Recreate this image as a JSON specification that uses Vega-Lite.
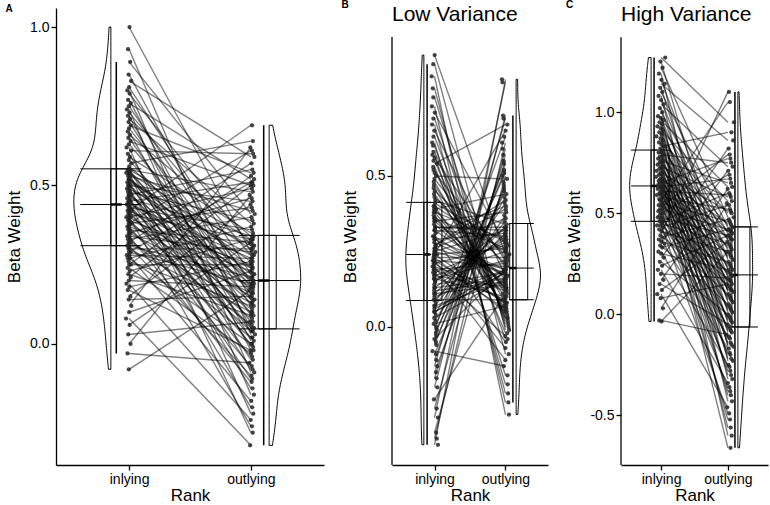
{
"$schema":"https://vega.github.io/schema/vega-lite/v6.json",
"padding":{"left":5,"right":5,"top":0,"bottom":5},
"spacing":17,
"config":{"font":"Liberation Sans","view":{"stroke":null},
"axis":{"grid":false,"domainColor":"#000","domainWidth":1.3,"tickColor":"#000","tickWidth":1.3,"tickSize":5,"labelColor":"#000","labelFontSize":14,"labelFont":"Liberation Sans","titleFont":"Liberation Sans","titleFontSize":17,"titleFontWeight":"normal","titleColor":"#000","labelPadding":2},
"axisX":{"labelAngle":0,"titlePadding":1},"axisY":{"titlePadding":6},
"title":{"font":"Liberation Sans","color":"#000"}},
"datasets":{
"A":[{"i":-0.08,"o":0.17},{"i":-0.03,"o":-0.06},{"i":0,"o":0.47},{"i":0.03,"o":0.07},{"i":0.06,"o":0.32},{"i":0.08,"o":-0.32},{"i":0.1,"o":0.23},{"i":0.12,"o":0.62},{"i":0.14,"o":0.15},{"i":0.15,"o":0.44},
{"i":0.17,"o":-0.02},{"i":0.18,"o":0.26},{"i":0.19,"o":-0.24},{"i":0.2,"o":0.18},{"i":0.21,"o":0.5},{"i":0.22,"o":0.09},{"i":0.23,"o":0.33},{"i":0.24,"o":-0.03},{"i":0.25,"o":0.25},{"i":0.25,"o":0.53},
{"i":0.26,"o":0.12},{"i":0.27,"o":0.37},{"i":0.27,"o":0},{"i":0.28,"o":0.27},{"i":0.28,"o":-0.18},{"i":0.29,"o":0.19},{"i":0.29,"o":0.51},{"i":0.3,"o":0.1},{"i":0.3,"o":0.3},{"i":0.31,"o":-0.1},
{"i":0.31,"o":0.21},{"i":0.32,"o":0.57},{"i":0.32,"o":0.13},{"i":0.33,"o":0.4},{"i":0.33,"o":0.02},{"i":0.34,"o":0.29},{"i":0.34,"o":-0.12},{"i":0.35,"o":0.16},{"i":0.35,"o":0.46},{"i":0.36,"o":0.06},
{"i":0.36,"o":0.32},{"i":0.37,"o":-0.07},{"i":0.37,"o":0.23},{"i":0.38,"o":0.61},{"i":0.38,"o":0.15},{"i":0.38,"o":0.43},{"i":0.39,"o":0.04},{"i":0.39,"o":0.25},{"i":0.4,"o":-0.26},{"i":0.4,"o":0.18},
{"i":0.4,"o":0.49},{"i":0.41,"o":0.08},{"i":0.41,"o":0.33},{"i":0.42,"o":-0.04},{"i":0.42,"o":0.24},{"i":0.42,"o":0.69},{"i":0.43,"o":0.11},{"i":0.43,"o":0.36},{"i":0.44,"o":0},{"i":0.44,"o":0.27},
{"i":0.44,"o":-0.2},{"i":0.45,"o":0.19},{"i":0.45,"o":0.51},{"i":0.45,"o":0.1},{"i":0.46,"o":0.34},{"i":0.46,"o":-0.11},{"i":0.47,"o":0.21},{"i":0.47,"o":0.55},{"i":0.47,"o":0.13},{"i":0.48,"o":0.39},
{"i":0.48,"o":0.02},{"i":0.49,"o":0.28},{"i":0.49,"o":-0.14},{"i":0.5,"o":0.2},{"i":0.5,"o":0.45},{"i":0.5,"o":0.05},{"i":0.51,"o":0.31},{"i":0.51,"o":-0.08},{"i":0.52,"o":0.22},{"i":0.52,"o":0.26},
{"i":0.52,"o":0.14},{"i":0.53,"o":0.42},{"i":0.53,"o":0.04},{"i":0.54,"o":0.3},{"i":0.54,"o":-0.28},{"i":0.54,"o":0.17},{"i":0.55,"o":0.48},{"i":0.55,"o":0.07},{"i":0.55,"o":0.33},{"i":0.55,"o":-0.05},
{"i":0.56,"o":0.24},{"i":0.57,"o":0.64},{"i":0.58,"o":0.16},{"i":0.59,"o":0.35},{"i":0.6,"o":-0.01},{"i":0.61,"o":0.6},{"i":0.62,"o":-0.22},{"i":0.63,"o":0.18},{"i":0.64,"o":0.5},{"i":0.65,"o":0.09},
{"i":0.66,"o":0.34},{"i":0.67,"o":-0.02},{"i":0.68,"o":0.2},{"i":0.69,"o":0.54},{"i":0.7,"o":0.12},{"i":0.71,"o":0.38},{"i":0.72,"o":0.01},{"i":0.73,"o":0.28},{"i":0.74,"o":-0.16},{"i":0.75,"o":0.19},
{"i":0.76,"o":0.52},{"i":0.77,"o":0.05},{"i":0.79,"o":0.31},{"i":0.8,"o":-0.09},{"i":0.81,"o":0.22},{"i":0.83,"o":0.59},{"i":0.85,"o":0.14},{"i":0.89,"o":0.41},{"i":0.93,"o":0.03},{"i":1,"o":0.29}],
"B":[{"i":-0.39,"o":0.82},{"i":-0.37,"o":0.61},{"i":-0.35,"o":0.5},{"i":-0.3,"o":0.81},{"i":-0.27,"o":0.59},{"i":-0.24,"o":0.11},{"i":-0.2,"o":0.7},{"i":-0.17,"o":0.57},{"i":-0.15,"o":0.48},{"i":-0.13,"o":0.69},
{"i":-0.11,"o":0.55},{"i":-0.09,"o":0.47},{"i":-0.08,"o":-0.13},{"i":-0.06,"o":0.54},{"i":-0.05,"o":0.46},{"i":-0.04,"o":0.19},{"i":-0.03,"o":0.52},{"i":-0.02,"o":0.45},{"i":-0.01,"o":0.63},{"i":0,"o":0.51},
{"i":0.01,"o":0.07},{"i":0.02,"o":0.37},{"i":0.03,"o":0.16},{"i":0.04,"o":0.43},{"i":0.05,"o":0.18},{"i":0.05,"o":0.18},{"i":0.06,"o":0.19},{"i":0.07,"o":0.35},{"i":0.07,"o":0.15},{"i":0.08,"o":0.41},
{"i":0.09,"o":0.09},{"i":0.09,"o":0.31},{"i":0.1,"o":0.19},{"i":0.11,"o":0.33},{"i":0.11,"o":0.14},{"i":0.12,"o":0.15},{"i":0.13,"o":0.16},{"i":0.13,"o":0.3},{"i":0.14,"o":0.18},{"i":0.15,"o":0.33},
{"i":0.15,"o":0.29},{"i":0.16,"o":0.1},{"i":0.16,"o":0.22},{"i":0.17,"o":0.13},{"i":0.17,"o":0.25},{"i":0.18,"o":-0.03},{"i":0.18,"o":0.28},{"i":0.19,"o":0.09},{"i":0.19,"o":0.21},{"i":0.2,"o":0.12},
{"i":0.2,"o":-0.11},{"i":0.21,"o":0.06},{"i":0.21,"o":0.27},{"i":0.22,"o":0.08},{"i":0.22,"o":0.2},{"i":0.22,"o":-0.07},{"i":0.23,"o":0.23},{"i":0.23,"o":0.05},{"i":0.24,"o":0.26},{"i":0.24,"o":0.08},
{"i":0.24,"o":0.65},{"i":0.25,"o":0.18},{"i":0.25,"o":0.32},{"i":0.26,"o":0.19},{"i":0.26,"o":0.36},{"i":0.27,"o":0.39},{"i":0.27,"o":0.42},{"i":0.28,"o":0.17},{"i":0.29,"o":0.31},{"i":0.29,"o":0.19},
{"i":0.3,"o":-0.05},{"i":0.3,"o":0.15},{"i":0.31,"o":0.4},{"i":0.32,"o":0.17},{"i":0.32,"o":0.3},{"i":0.33,"o":0.32},{"i":0.33,"o":0.33},{"i":0.34,"o":0.14},{"i":0.35,"o":0.38},{"i":0.35,"o":0.16},
{"i":0.36,"o":0.13},{"i":0.36,"o":0.26},{"i":0.37,"o":0.07},{"i":0.38,"o":0.29},{"i":0.38,"o":0.1},{"i":0.39,"o":0.44},{"i":0.39,"o":0.13},{"i":0.4,"o":0.25},{"i":0.4,"o":0.06},{"i":0.41,"o":0.28},
{"i":0.42,"o":0.34},{"i":0.43,"o":0.21},{"i":0.44,"o":0.12},{"i":0.45,"o":0.24},{"i":0.46,"o":0.05},{"i":0.47,"o":0.11},{"i":0.48,"o":0.08},{"i":0.49,"o":0.2},{"i":0.5,"o":0.49},{"i":0.51,"o":0.23},
{"i":0.52,"o":0.04},{"i":0.53,"o":-0.02},{"i":0.54,"o":0.67},{"i":0.55,"o":0.03},{"i":0.56,"o":0.22},{"i":0.57,"o":-0.16},{"i":0.58,"o":0.03},{"i":0.6,"o":-0.04},{"i":0.61,"o":-0.19},{"i":0.63,"o":0.02},
{"i":0.65,"o":0.17},{"i":0.67,"o":-0.22},{"i":0.69,"o":0.01},{"i":0.71,"o":0.27},{"i":0.73,"o":-0.25},{"i":0.76,"o":0},{"i":0.79,"o":-0.09},{"i":0.83,"o":-0.29},{"i":0.87,"o":-0.01},{"i":0.9,"o":0.24}],
"C":[{"i":-0.035,"o":0.31},{"i":-0.03,"o":-0.1},{"i":0.03,"o":0.55},{"i":0.08,"o":0.15},{"i":0.1,"o":-0.46},{"i":0.12,"o":0.36},{"i":0.15,"o":-0.05},{"i":0.17,"o":0.62},{"i":0.2,"o":0.18},{"i":0.22,"o":-0.34},
{"i":0.24,"o":0.39},{"i":0.26,"o":0},{"i":0.28,"o":0.71},{"i":0.3,"o":0.22},{"i":0.31,"o":-0.25},{"i":0.33,"o":0.42},{"i":0.34,"o":0.05},{"i":0.35,"o":0.82},{"i":0.36,"o":0.26},{"i":0.37,"o":-0.17},
{"i":0.38,"o":0.47},{"i":0.39,"o":0.1},{"i":0.4,"o":1.1},{"i":0.41,"o":0.31},{"i":0.42,"o":-0.11},{"i":0.43,"o":0.54},{"i":0.44,"o":0.14},{"i":0.44,"o":-0.49},{"i":0.45,"o":0.35},{"i":0.46,"o":-0.06},
{"i":0.46,"o":0.6},{"i":0.47,"o":0.17},{"i":0.48,"o":-0.36},{"i":0.48,"o":0.39},{"i":0.49,"o":-0.01},{"i":0.5,"o":0.69},{"i":0.5,"o":0.21},{"i":0.51,"o":-0.26},{"i":0.52,"o":0.42},{"i":0.52,"o":0.04},
{"i":0.53,"o":0.79},{"i":0.54,"o":0.25},{"i":0.54,"o":-0.19},{"i":0.55,"o":0.46},{"i":0.56,"o":0.09},{"i":0.56,"o":1.05},{"i":0.57,"o":0.3},{"i":0.57,"o":-0.12},{"i":0.58,"o":0.52},{"i":0.59,"o":0.13},
{"i":0.59,"o":-0.52},{"i":0.6,"o":0.34},{"i":0.6,"o":-0.07},{"i":0.61,"o":0.59},{"i":0.61,"o":0.17},{"i":0.62,"o":-0.38},{"i":0.62,"o":0.38},{"i":0.63,"o":-0.02},{"i":0.63,"o":0.67},{"i":0.63,"o":0.2},
{"i":0.64,"o":-0.28},{"i":0.64,"o":0.41},{"i":0.65,"o":0.03},{"i":0.65,"o":0.77},{"i":0.66,"o":0.24},{"i":0.66,"o":-0.2},{"i":0.67,"o":0.45},{"i":0.67,"o":0.08},{"i":0.68,"o":-0.66},{"i":0.69,"o":0.29},
{"i":0.69,"o":-0.14},{"i":0.7,"o":0.51},{"i":0.7,"o":0.12},{"i":0.71,"o":-0.56},{"i":0.72,"o":0.33},{"i":0.72,"o":-0.08},{"i":0.73,"o":0.58},{"i":0.73,"o":0.16},{"i":0.74,"o":-0.4},{"i":0.75,"o":0.37},
{"i":0.75,"o":-0.03},{"i":0.76,"o":0.65},{"i":0.76,"o":0.19},{"i":0.77,"o":-0.3},{"i":0.78,"o":0.41},{"i":0.78,"o":0.02},{"i":0.79,"o":0.75},{"i":0.8,"o":0.23},{"i":0.8,"o":-0.22},{"i":0.81,"o":0.44},
{"i":0.82,"o":0.07},{"i":0.83,"o":0.9},{"i":0.84,"o":0.28},{"i":0.85,"o":-0.15},{"i":0.86,"o":0.5},{"i":0.87,"o":0.12},{"i":0.88,"o":-0.6},{"i":0.89,"o":0.32},{"i":0.9,"o":-0.09},{"i":0.91,"o":0.56},
{"i":0.92,"o":0.15},{"i":0.93,"o":-0.43},{"i":0.94,"o":0.37},{"i":0.95,"o":-0.04},{"i":0.96,"o":0.63},{"i":0.97,"o":0.19},{"i":0.98,"o":-0.32},{"i":1,"o":0.4},{"i":1.02,"o":0.01},{"i":1.04,"o":0.73},
{"i":1.06,"o":0.22},{"i":1.08,"o":-0.23},{"i":1.1,"o":0.43},{"i":1.12,"o":0.06},{"i":1.14,"o":0.86},{"i":1.16,"o":0.27},{"i":1.19,"o":-0.16},{"i":1.22,"o":0.48},{"i":1.25,"o":0.11},{"i":1.27,"o":0.95}]
},
"hconcat":[
{"title":{"text":"A","anchor":"start","frame":"bounds","fontSize":10,"fontWeight":"bold","offset":-6},
"vconcat":[{
"width":268,"height":457,"data":{"name":"A"},
"resolve":{"scale":{"x":"independent"}},
"layer":[
{"transform":[{"density":"i","bandwidth":0.055,"as":["v","d"]}],
"mark":{"type":"area","orient":"horizontal","fillOpacity":0,"stroke":"#000","strokeWidth":1},
"encoding":{"y":{"field":"v","type":"quantitative","title":"Beta Weight","scale":{"domain":[-0.382,1.06],"nice":false,"zero":false},"axis":{"values":[0,0.5,1],"labelExpr":"replace(format(datum.value,'.1f'),'\u2212','-')"}},
"x":{"field":"d","type":"quantitative","scale":{"domain":[-11.77,3.03],"reverse":true,"nice":false,"zero":false},"axis":null},"x2":{"datum":0}}},
{"transform":[{"density":"o","bandwidth":0.06,"as":["v","d"]}],
"mark":{"type":"area","orient":"horizontal","fillOpacity":0,"stroke":"#000","strokeWidth":1},
"encoding":{"y":{"field":"v","type":"quantitative","title":"Beta Weight","scale":{"domain":[-0.382,1.06],"nice":false,"zero":false}},
"x":{"field":"d","type":"quantitative","scale":{"domain":[-11.77,3.03],"nice":false,"zero":false},"axis":null},"x2":{"datum":0}}},
{"transform":[{"fold":["i","o"],"as":["k","v"]},{"aggregate":[{"op":"q1","field":"v","as":"q1"},{"op":"median","field":"v","as":"md"},{"op":"q3","field":"v","as":"q3"}],"groupby":["k"]},{"fold":["q1","md","q3"],"as":["q","qv"]}],
"mark":{"type":"rule","color":"#000","strokeWidth":1},
"encoding":{"x":{"field":"k","type":"nominal","scale":{"type":"band","domain":["i","o"],"paddingInner":0.6154,"paddingOuter":0.1538},"bandPosition":0,"axis":null},"x2":{"field":"k","bandPosition":1},
"y":{"field":"qv","type":"quantitative","title":"Beta Weight","scale":{"domain":[-0.382,1.06],"nice":false,"zero":false}}}},
{"transform":[{"fold":["i","o"],"as":["k","v"]},{"aggregate":[{"op":"q1","field":"v","as":"q1"},{"op":"q3","field":"v","as":"q3"}],"groupby":["k"]}],
"mark":{"type":"bar","fillOpacity":0,"stroke":"#000","strokeWidth":1},
"encoding":{"x":{"field":"k","type":"nominal","scale":{"type":"band","domain":["i","o"],"paddingInner":0.92562,"paddingOuter":0.3719},"axis":null},
"y":{"field":"q1","type":"quantitative","title":"Beta Weight","scale":{"domain":[-0.382,1.06],"nice":false,"zero":false}},"y2":{"field":"q3"}}},
{"transform":[{"fold":["i","o"],"as":["k","v"]},{"aggregate":[{"op":"median","field":"v","as":"md"}],"groupby":["k"]}],
"mark":{"type":"rule","color":"#000","strokeWidth":2.5},
"encoding":{"x":{"field":"k","type":"nominal","scale":{"type":"band","domain":["i","o"],"paddingInner":0.92562,"paddingOuter":0.3719},"bandPosition":0,"axis":null},"x2":{"field":"k","bandPosition":1},
"y":{"field":"md","type":"quantitative","title":"Beta Weight","scale":{"domain":[-0.382,1.06],"nice":false,"zero":false}}}},
{"transform":[{"fold":["i","o"],"as":["k","v"]},{"joinaggregate":[{"op":"q1","field":"v","as":"q1"},{"op":"q3","field":"v","as":"q3"}],"groupby":["k"]},{"filter":"datum.v >= datum.q1 - 1.5*(datum.q3-datum.q1) && datum.v <= datum.q3 + 1.5*(datum.q3-datum.q1)"},{"aggregate":[{"op":"min","field":"v","as":"lo"},{"op":"max","field":"v","as":"hi"}],"groupby":["k"]}],
"mark":{"type":"rule","color":"#000","strokeWidth":1.5},
"encoding":{"x":{"field":"k","type":"nominal","scale":{"type":"band","domain":["i","o"],"paddingInner":0.92562,"paddingOuter":0.3719},"bandPosition":0.5,"axis":null},
"y":{"field":"lo","type":"quantitative","title":"Beta Weight","scale":{"domain":[-0.382,1.06],"nice":false,"zero":false}},"y2":{"field":"hi"}}},
{"transform":[{"window":[{"op":"row_number","as":"id"}]},{"fold":["i","o"],"as":["k","v"]}],
"mark":{"type":"line","color":"#000","opacity":0.5,"strokeWidth":1.4},
"encoding":{"x":{"field":"k","type":"nominal","scale":{"type":"point","domain":["i","o"],"padding":0.6},"axis":{"title":"Rank","labelExpr":"datum.value == 'i' ? 'inlying' : 'outlying'"}},
"y":{"field":"v","type":"quantitative","title":"Beta Weight","scale":{"domain":[-0.382,1.06],"nice":false,"zero":false}},"detail":{"field":"id","type":"nominal"}}},
{"mark":{"type":"circle","size":18,"color":"#222","opacity":0.85},
"encoding":{"x":{"datum":"i","type":"nominal","scale":{"type":"point","domain":["i","o"],"padding":0.6},"axis":null},
"xOffset":{"field":"o","type":"quantitative","scale":{"range":[-5,6]},"legend":null},
"y":{"field":"i","type":"quantitative","title":"Beta Weight","scale":{"domain":[-0.382,1.06],"nice":false,"zero":false}}}},
{"mark":{"type":"circle","size":18,"color":"#222","opacity":0.85},
"encoding":{"x":{"datum":"o","type":"nominal","scale":{"type":"point","domain":["i","o"],"padding":0.6},"axis":null},
"xOffset":{"field":"i","type":"quantitative","scale":{"range":[-6,5]},"legend":null},
"y":{"field":"o","type":"quantitative","title":"Beta Weight","scale":{"domain":[-0.382,1.06],"nice":false,"zero":false}}}}
]}]},
{"title":{"text":"B","anchor":"start","frame":"bounds","fontSize":10,"fontWeight":"bold","offset":-6},
"vconcat":[{
"title":{"text":"Low Variance","anchor":"start","frame":"group","fontSize":21,"fontWeight":"normal","offset":-17},
"width":156,"height":457,"data":{"name":"B"},
"resolve":{"scale":{"x":"independent"}},
"layer":[
{"transform":[{"density":"i","bandwidth":0.07,"as":["v","d"]}],
"mark":{"type":"area","orient":"horizontal","fillOpacity":0,"stroke":"#000","strokeWidth":1},
"encoding":{"y":{"field":"v","type":"quantitative","title":"Beta Weight","scale":{"domain":[-0.457,1.056],"nice":false,"zero":false},"axis":{"values":[0,0.5],"domain":false,"labelExpr":"replace(format(datum.value,'.1f'),'\u2212','-')"}},
"x":{"field":"d","type":"quantitative","scale":{"domain":[-11.14,2.86],"reverse":true,"nice":false,"zero":false},"axis":null},"x2":{"datum":0}}},
{"transform":[{"density":"o","bandwidth":0.055,"as":["v","d"]}],
"mark":{"type":"area","orient":"horizontal","fillOpacity":0,"stroke":"#000","strokeWidth":1},
"encoding":{"y":{"field":"v","type":"quantitative","title":"Beta Weight","scale":{"domain":[-0.457,1.056],"nice":false,"zero":false}},
"x":{"field":"d","type":"quantitative","scale":{"domain":[-11.14,2.86],"nice":false,"zero":false},"axis":null},"x2":{"datum":0}}},
{"transform":[{"aggregate":[{"op":"count","as":"n"}]}],
"mark":{"type":"rule","color":"#000","strokeWidth":1.3},
"encoding":{"x":{"datum":0,"type":"quantitative","scale":{"domain":[0,1]},"axis":null},
"y":{"datum":-0.457,"type":"quantitative","title":"Beta Weight","scale":{"domain":[-0.457,1.056],"nice":false,"zero":false}},"y2":{"datum":0.96}}},
{"transform":[{"fold":["i","o"],"as":["k","v"]},{"aggregate":[{"op":"q1","field":"v","as":"q1"},{"op":"median","field":"v","as":"md"},{"op":"q3","field":"v","as":"q3"}],"groupby":["k"]},{"fold":["q1","md","q3"],"as":["q","qv"]}],
"mark":{"type":"rule","color":"#000","strokeWidth":1},
"encoding":{"x":{"field":"k","type":"nominal","scale":{"type":"band","domain":["i","o"],"paddingInner":0.7586,"paddingOuter":0.1379},"bandPosition":0,"axis":null},"x2":{"field":"k","bandPosition":1},
"y":{"field":"qv","type":"quantitative","title":"Beta Weight","scale":{"domain":[-0.457,1.056],"nice":false,"zero":false}}}},
{"transform":[{"fold":["i","o"],"as":["k","v"]},{"aggregate":[{"op":"q1","field":"v","as":"q1"},{"op":"q3","field":"v","as":"q3"}],"groupby":["k"]}],
"mark":{"type":"bar","fillOpacity":0,"stroke":"#000","strokeWidth":1},
"encoding":{"x":{"field":"k","type":"nominal","scale":{"type":"band","domain":["i","o"],"paddingInner":0.92562,"paddingOuter":0.3719},"axis":null},
"y":{"field":"q1","type":"quantitative","title":"Beta Weight","scale":{"domain":[-0.457,1.056],"nice":false,"zero":false}},"y2":{"field":"q3"}}},
{"transform":[{"fold":["i","o"],"as":["k","v"]},{"aggregate":[{"op":"median","field":"v","as":"md"}],"groupby":["k"]}],
"mark":{"type":"rule","color":"#000","strokeWidth":2.5},
"encoding":{"x":{"field":"k","type":"nominal","scale":{"type":"band","domain":["i","o"],"paddingInner":0.92562,"paddingOuter":0.3719},"bandPosition":0,"axis":null},"x2":{"field":"k","bandPosition":1},
"y":{"field":"md","type":"quantitative","title":"Beta Weight","scale":{"domain":[-0.457,1.056],"nice":false,"zero":false}}}},
{"transform":[{"fold":["i","o"],"as":["k","v"]},{"joinaggregate":[{"op":"q1","field":"v","as":"q1"},{"op":"q3","field":"v","as":"q3"}],"groupby":["k"]},{"filter":"datum.v >= datum.q1 - 1.5*(datum.q3-datum.q1) && datum.v <= datum.q3 + 1.5*(datum.q3-datum.q1)"},{"aggregate":[{"op":"min","field":"v","as":"lo"},{"op":"max","field":"v","as":"hi"}],"groupby":["k"]}],
"mark":{"type":"rule","color":"#000","strokeWidth":1.5},
"encoding":{"x":{"field":"k","type":"nominal","scale":{"type":"band","domain":["i","o"],"paddingInner":0.92562,"paddingOuter":0.3719},"bandPosition":0.5,"axis":null},
"y":{"field":"lo","type":"quantitative","title":"Beta Weight","scale":{"domain":[-0.457,1.056],"nice":false,"zero":false}},"y2":{"field":"hi"}}},
{"transform":[{"window":[{"op":"row_number","as":"id"}]},{"fold":["i","o"],"as":["k","v"]}],
"mark":{"type":"line","color":"#000","opacity":0.5,"strokeWidth":1.4},
"encoding":{"x":{"field":"k","type":"nominal","scale":{"type":"point","domain":["i","o"],"padding":0.6},"axis":{"title":"Rank","labelExpr":"datum.value == 'i' ? 'inlying' : 'outlying'"}},
"y":{"field":"v","type":"quantitative","title":"Beta Weight","scale":{"domain":[-0.457,1.056],"nice":false,"zero":false}},"detail":{"field":"id","type":"nominal"}}},
{"mark":{"type":"circle","size":18,"color":"#222","opacity":0.85},
"encoding":{"x":{"datum":"i","type":"nominal","scale":{"type":"point","domain":["i","o"],"padding":0.6},"axis":null},
"xOffset":{"field":"o","type":"quantitative","scale":{"range":[-3,4]},"legend":null},
"y":{"field":"i","type":"quantitative","title":"Beta Weight","scale":{"domain":[-0.457,1.056],"nice":false,"zero":false}}}},
{"mark":{"type":"circle","size":18,"color":"#222","opacity":0.85},
"encoding":{"x":{"datum":"o","type":"nominal","scale":{"type":"point","domain":["i","o"],"padding":0.6},"axis":null},
"xOffset":{"field":"i","type":"quantitative","scale":{"range":[-4,3]},"legend":null},
"y":{"field":"o","type":"quantitative","title":"Beta Weight","scale":{"domain":[-0.457,1.056],"nice":false,"zero":false}}}}
]}]},
{"title":{"text":"C","anchor":"start","frame":"bounds","fontSize":10,"fontWeight":"bold","offset":-6},
"vconcat":[{
"title":{"text":"High Variance","anchor":"start","frame":"group","fontSize":21,"fontWeight":"normal","offset":-17},
"width":147,"height":457,"data":{"name":"C"},
"resolve":{"scale":{"x":"independent"}},
"layer":[
{"transform":[{"density":"i","bandwidth":0.08,"as":["v","d"]}],
"mark":{"type":"area","orient":"horizontal","fillOpacity":0,"stroke":"#000","strokeWidth":1},
"encoding":{"y":{"field":"v","type":"quantitative","title":"Beta Weight","scale":{"domain":[-0.745,1.515],"nice":false,"zero":false},"axis":{"values":[-0.5,0,0.5,1],"domain":false,"labelExpr":"replace(format(datum.value,'.1f'),'\u2212','-')"}},
"x":{"field":"d","type":"quantitative","scale":{"domain":[-8.11,2.09],"reverse":true,"nice":false,"zero":false},"axis":null},"x2":{"datum":0}}},
{"transform":[{"density":"o","bandwidth":0.1,"as":["v","d"]}],
"mark":{"type":"area","orient":"horizontal","fillOpacity":0,"stroke":"#000","strokeWidth":1},
"encoding":{"y":{"field":"v","type":"quantitative","title":"Beta Weight","scale":{"domain":[-0.745,1.515],"nice":false,"zero":false}},
"x":{"field":"d","type":"quantitative","scale":{"domain":[-8.11,2.09],"nice":false,"zero":false},"axis":null},"x2":{"datum":0}}},
{"transform":[{"aggregate":[{"op":"count","as":"n"}]}],
"mark":{"type":"rule","color":"#000","strokeWidth":1.3},
"encoding":{"x":{"datum":0,"type":"quantitative","scale":{"domain":[0,1]},"axis":null},
"y":{"datum":-0.745,"type":"quantitative","title":"Beta Weight","scale":{"domain":[-0.745,1.515],"nice":false,"zero":false}},"y2":{"datum":1.37}}},
{"transform":[{"fold":["i","o"],"as":["k","v"]},{"aggregate":[{"op":"q1","field":"v","as":"q1"},{"op":"median","field":"v","as":"md"},{"op":"q3","field":"v","as":"q3"}],"groupby":["k"]},{"fold":["q1","md","q3"],"as":["q","qv"]}],
"mark":{"type":"rule","color":"#000","strokeWidth":1},
"encoding":{"x":{"field":"k","type":"nominal","scale":{"type":"band","domain":["i","o"],"paddingInner":0.7333,"paddingOuter":0.1},"bandPosition":0,"axis":null},"x2":{"field":"k","bandPosition":1},
"y":{"field":"qv","type":"quantitative","title":"Beta Weight","scale":{"domain":[-0.745,1.515],"nice":false,"zero":false}}}},
{"transform":[{"fold":["i","o"],"as":["k","v"]},{"aggregate":[{"op":"q1","field":"v","as":"q1"},{"op":"q3","field":"v","as":"q3"}],"groupby":["k"]}],
"mark":{"type":"bar","fillOpacity":0,"stroke":"#000","strokeWidth":1},
"encoding":{"x":{"field":"k","type":"nominal","scale":{"type":"band","domain":["i","o"],"paddingInner":0.92562,"paddingOuter":0.3719},"axis":null},
"y":{"field":"q1","type":"quantitative","title":"Beta Weight","scale":{"domain":[-0.745,1.515],"nice":false,"zero":false}},"y2":{"field":"q3"}}},
{"transform":[{"fold":["i","o"],"as":["k","v"]},{"aggregate":[{"op":"median","field":"v","as":"md"}],"groupby":["k"]}],
"mark":{"type":"rule","color":"#000","strokeWidth":2.5},
"encoding":{"x":{"field":"k","type":"nominal","scale":{"type":"band","domain":["i","o"],"paddingInner":0.92562,"paddingOuter":0.3719},"bandPosition":0,"axis":null},"x2":{"field":"k","bandPosition":1},
"y":{"field":"md","type":"quantitative","title":"Beta Weight","scale":{"domain":[-0.745,1.515],"nice":false,"zero":false}}}},
{"transform":[{"fold":["i","o"],"as":["k","v"]},{"joinaggregate":[{"op":"q1","field":"v","as":"q1"},{"op":"q3","field":"v","as":"q3"}],"groupby":["k"]},{"filter":"datum.v >= datum.q1 - 1.5*(datum.q3-datum.q1) && datum.v <= datum.q3 + 1.5*(datum.q3-datum.q1)"},{"aggregate":[{"op":"min","field":"v","as":"lo"},{"op":"max","field":"v","as":"hi"}],"groupby":["k"]}],
"mark":{"type":"rule","color":"#000","strokeWidth":1.5},
"encoding":{"x":{"field":"k","type":"nominal","scale":{"type":"band","domain":["i","o"],"paddingInner":0.92562,"paddingOuter":0.3719},"bandPosition":0.5,"axis":null},
"y":{"field":"lo","type":"quantitative","title":"Beta Weight","scale":{"domain":[-0.745,1.515],"nice":false,"zero":false}},"y2":{"field":"hi"}}},
{"transform":[{"window":[{"op":"row_number","as":"id"}]},{"fold":["i","o"],"as":["k","v"]}],
"mark":{"type":"line","color":"#000","opacity":0.5,"strokeWidth":1.4},
"encoding":{"x":{"field":"k","type":"nominal","scale":{"type":"point","domain":["i","o"],"padding":0.6},"axis":{"title":"Rank","labelExpr":"datum.value == 'i' ? 'inlying' : 'outlying'"}},
"y":{"field":"v","type":"quantitative","title":"Beta Weight","scale":{"domain":[-0.745,1.515],"nice":false,"zero":false}},"detail":{"field":"id","type":"nominal"}}},
{"mark":{"type":"circle","size":18,"color":"#222","opacity":0.85},
"encoding":{"x":{"datum":"i","type":"nominal","scale":{"type":"point","domain":["i","o"],"padding":0.6},"axis":null},
"xOffset":{"field":"o","type":"quantitative","scale":{"range":[-3,4]},"legend":null},
"y":{"field":"i","type":"quantitative","title":"Beta Weight","scale":{"domain":[-0.745,1.515],"nice":false,"zero":false}}}},
{"mark":{"type":"circle","size":18,"color":"#222","opacity":0.85},
"encoding":{"x":{"datum":"o","type":"nominal","scale":{"type":"point","domain":["i","o"],"padding":0.6},"axis":null},
"xOffset":{"field":"i","type":"quantitative","scale":{"range":[-4,3]},"legend":null},
"y":{"field":"o","type":"quantitative","title":"Beta Weight","scale":{"domain":[-0.745,1.515],"nice":false,"zero":false}}}}
]}]}
]
}
